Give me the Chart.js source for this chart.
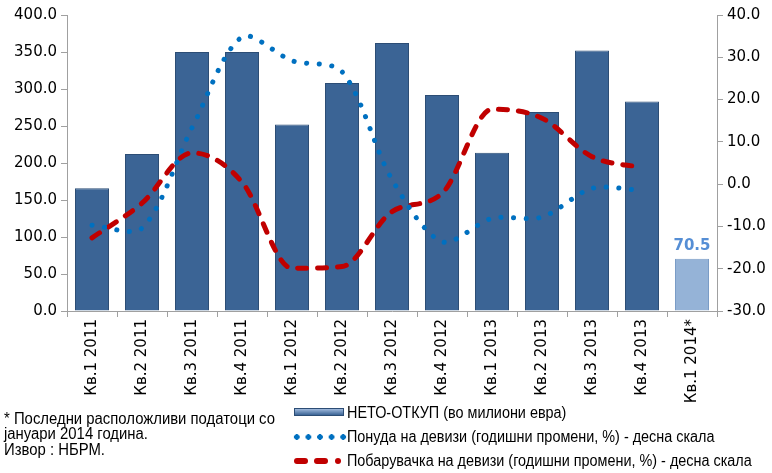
<!DOCTYPE html>
<html>
<head>
<meta charset="utf-8">
<script src="https://cdn.jsdelivr.net/npm/chart.js@4"></script>
<style>
  body { margin: 0; background: #fff; }
  #wrap { position: relative; width: 772px; height: 473px; }
  .note, .leg { position: absolute; font-family: "Liberation Sans", Arial, sans-serif; font-size: 16px; line-height: 18px; color: #000; white-space: nowrap; transform-origin: left center; }
  .note { transform: scaleX(0.93); }
  .leg { transform: scaleX(0.9); }
  .sw { position: absolute; }
</style>
</head>
<body>
<div id="wrap">
  <canvas id="myChart" width="772" height="473"></canvas>
  <div class="note" style="left:4px; top:410px;">* Последни расположливи податоци со</div>
  <div class="note" style="left:4px; top:425px;">јануари 2014 година.</div>
  <div class="note" style="left:4px; top:441px;">Извор : НБРМ.</div>

  <div class="sw" style="left:294px; top:408px; width:48px; height:6px; background:linear-gradient(#9fb9dc,#3b6495); border:1px solid #2c4d75;"></div>
  <div class="leg" style="left:347px; top:404px;">НЕТО-ОТКУП (во милиони евра)</div>
  <div class="sw" style="left:291px; top:434px; width:56px; height:6px; background:radial-gradient(circle, #0070c0 2.6px, transparent 3px) 0 0/11.6px 6px repeat-x;"></div>
  <div class="leg" style="left:347px; top:428px;">Понуда на девизи (годишни промени, %) - десна скала</div>
  <div class="sw" style="left:294px; top:458px; width:14px; height:6px; background:#c00000; border-radius:3px;"></div>
  <div class="sw" style="left:314px; top:458px; width:14px; height:6px; background:#c00000; border-radius:3px;"></div>
  <div class="sw" style="left:335px; top:458px; width:6px; height:6px; background:#c00000; border-radius:3px;"></div>
  <div class="leg" style="left:347px; top:452px;">Побарувачка на девизи (годишни промени, %) - десна скала</div>
</div>
<script>
const labels = ["Кв.1 2011", "Кв.2 2011", "Кв.3 2011", "Кв.4 2011", "Кв.1 2012", "Кв.2 2012", "Кв.3 2012", "Кв.4 2012", "Кв.1 2013", "Кв.2 2013", "Кв.3 2013", "Кв.4 2013", "Кв.1 2014*"];
const netBuy = [166, 212, 350, 350, 252, 308, 362, 292, 214, 269, 352, 283, 70.5];
const supply = [-9.7, -10.4, 13.3, 34.8, 29.2, 26.6, 1.1, -13.6, -8.1, -7.8, -1.0, -1.5, null];
const demand = [-12.7, -4.5, 7.4, 0.5, -19.9, -19.5, -6.5, -2.2, 17.7, 15.6, 6.5, 3.9, null];
const leftTicks = [0, 50, 100, 150, 200, 250, 300, 350, 400];
const rightTicks = [-30, -20, -10, 0, 10, 20, 30, 40];

const barColors = netBuy.map((v, i) => (i === netBuy.length - 1 ? "#95b3d7" : "#3b6495"));
const barBorders = netBuy.map((v, i) => (i === netBuy.length - 1 ? "#7a9cc6" : "#2c4d75"));

// label above the last bar
const lastLabel = {
  id: "lastLabel",
  afterDatasetsDraw(chart) {
    const meta = chart.getDatasetMeta(2);
    const bar = meta.data[netBuy.length - 1];
    const ctx = chart.ctx;
    ctx.save();
    ctx.font = "bold 15px 'DejaVu Sans', Verdana, sans-serif";
    ctx.fillStyle = "#558ed5";
    ctx.textAlign = "center";
    ctx.textBaseline = "bottom";
    ctx.fillText(netBuy[netBuy.length - 1].toFixed(1), bar.x, bar.y - 5);
    ctx.restore();
  },
};

const tickFont = { family: "'DejaVu Sans', Verdana, sans-serif", size: 15 };

new Chart(document.getElementById("myChart"), {
  data: {
    labels: labels,
    datasets: [
      {
        type: "line",
        label: "Понуда на девизи (годишни промени, %) - десна скала",
        data: supply,
        yAxisID: "y1",
        borderColor: "#0070c0",
        borderWidth: 5,
        borderCapStyle: "round",
        borderDash: [0.1, 12.5],
        tension: 0.3,
        pointRadius: 0,
        order: 1,
      },
      {
        type: "line",
        label: "Побарувачка на девизи (годишни промени, %) - десна скала",
        data: demand,
        yAxisID: "y1",
        borderColor: "#c00000",
        borderWidth: 5,
        borderCapStyle: "round",
        borderDash: [9, 11],
        cubicInterpolationMode: "monotone",
        pointRadius: 0,
        order: 2,
      },
      {
        type: "bar",
        label: "НЕТО-ОТКУП (во милиони евра)",
        data: netBuy,
        yAxisID: "y",
        backgroundColor: barColors,
        borderColor: barBorders,
        borderWidth: 1,
        barPercentage: 0.68,
        categoryPercentage: 1,
        order: 3,
      },
    ],
  },
  options: {
    responsive: false,
    animation: false,
    layout: { padding: { top: 15, right: 0, left: 0, bottom: 0 } },
    plugins: { legend: { display: false }, tooltip: { enabled: false } },
    scales: {
      x: {
        grid: { display: true, drawOnChartArea: false, offset: true, color: "#a0a0a0", tickLength: 6 },
        border: { color: "#a0a0a0" },
        ticks: { color: "#000", font: tickFont, minRotation: 90, maxRotation: 90, autoSkip: false, padding: 2 },
        afterFit: (s) => { s.height = 162; },
      },
      y: {
        position: "left",
        min: 0,
        max: 400,
        afterBuildTicks: (s) => { s.ticks = leftTicks.map((v) => ({ value: v })); },
        grid: { display: true, drawOnChartArea: false, color: "#a0a0a0", tickLength: 6 },
        border: { color: "#a0a0a0" },
        ticks: { color: "#000", font: tickFont, padding: 4, callback: (v) => Number(v).toFixed(1) },
        afterFit: (s) => { s.width = 67; },
      },
      y1: {
        position: "right",
        min: -30,
        max: 40,
        afterBuildTicks: (s) => { s.ticks = rightTicks.map((v) => ({ value: v })); },
        grid: { display: true, drawOnChartArea: false, color: "#a0a0a0", tickLength: 6 },
        border: { color: "#a0a0a0" },
        ticks: { color: "#000", font: tickFont, padding: 4, callback: (v) => Number(v).toFixed(1) },
        afterFit: (s) => { s.width = 55; },
      },
    },
  },
  plugins: [lastLabel],
});
</script>
</body>
</html>
